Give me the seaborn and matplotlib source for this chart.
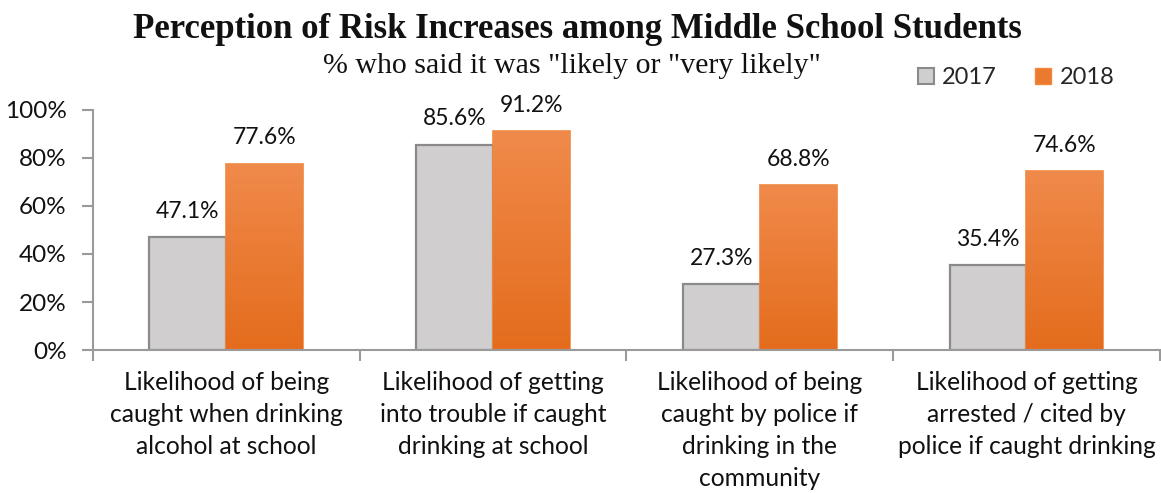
import numpy as np
import pandas as pd
import matplotlib
matplotlib.use("Agg")
import matplotlib.pyplot as plt
import seaborn as sns
from matplotlib.colors import LinearSegmentedColormap
from matplotlib.patches import Patch

categories = [
    "Likelihood of being\ncaught when drinking\nalcohol at school",
    "Likelihood of getting\ninto trouble if caught\ndrinking at school",
    "Likelihood of being\ncaught by police if\ndrinking in the\ncommunity",
    "Likelihood of getting\narrested / cited by\npolice if caught drinking",
]
years = ["2017", "2018"]
values_2017 = [47.1, 85.6, 27.3, 35.4]
values_2018 = [77.6, 91.2, 68.8, 74.6]
y_ticks = [0, 20, 40, 60, 80, 100]
y_tick_labels = ["0%", "20%", "40%", "60%", "80%", "100%"]

title = "Perception of Risk Increases among Middle School Students"
subtitle = '% who said it was "likely or "very likely"'

sns.set_theme(style="white")
plt.rcParams["font.family"] = ["Lato", "DejaVu Sans"]

df = pd.DataFrame({
    "category": categories * 2,
    "year": [years[0]] * 4 + [years[1]] * 4,
    "value": values_2017 + values_2018,
})

gray_fill = "#D0CECE"
gray_edge = "#8A8A8A"
orange_fill = "#EA7A2E"
orange_edge = "#F0893F"
axis_col = "#9A9A9A"

fig = plt.figure(figsize=(11.61, 4.93), dpi=100)
ax = fig.add_axes([0.080, 0.290, 0.919, 0.487])

sns.barplot(data=df, x="category", y="value", hue="year", hue_order=years,
            palette={"2017": gray_fill, "2018": orange_fill}, width=0.577,
            saturation=1, legend=False, ax=ax, linewidth=0)

cmap = LinearSegmentedColormap.from_list("og", ["#F08A4B", "#E46C1C"])
grad = np.linspace(0, 1, 256).reshape(-1, 1)
for i, cont in enumerate(ax.containers):
    for p in cont.patches:
        if i == 0:
            p.set_edgecolor(gray_edge)
            p.set_linewidth(1.6)
        else:
            p.set_edgecolor(orange_edge)
            p.set_linewidth(1.2)
            x0, w, h = p.get_x(), p.get_width(), p.get_height()
            im = ax.imshow(grad, cmap=cmap, aspect="auto",
                           extent=[x0, x0 + w, 0, h], origin="upper", zorder=p.get_zorder() + 0.1)
            im.set_clip_path(p)
    vals = values_2017 if i == 0 else values_2018
    ax.bar_label(cont, labels=[f"{v:.1f}%" for v in vals], padding=11,
                 fontsize=16.5, color="#111111")

ax.set_xlim(-0.5, 3.5)
ax.set_ylim(0, 100)
ax.set_yticks(y_ticks)
ax.set_yticklabels(y_tick_labels, fontsize=17.5, color="#111111")
ax.set_xticks(range(4))
ax.set_xticklabels(categories, fontsize=17.7, color="#111111", linespacing=1.47)
ax.set_xticks(np.arange(-0.5, 4.0, 1.0), minor=True)
ax.tick_params(axis="x", which="major", length=0, pad=15)
ax.tick_params(axis="x", which="minor", length=8, width=1.5, color=axis_col, direction="out", bottom=True)
ax.tick_params(axis="y", length=8, width=1.5, color=axis_col, direction="out", left=True, pad=11)
ax.set_xlabel("")
ax.set_ylabel("")
for s in ["top", "right"]:
    ax.spines[s].set_visible(False)
for s in ["left", "bottom"]:
    ax.spines[s].set_color(axis_col)
    ax.spines[s].set_linewidth(1.5)
ax.grid(False)

fig.text(0.497, 0.940, title, ha="center", va="center", fontsize=25,
         fontweight="bold", family=["Liberation Serif", "DejaVu Serif"], color="#111111")
fig.text(0.493, 0.866, subtitle, ha="center", va="center", fontsize=21.5,
         family=["Liberation Serif", "DejaVu Serif"], color="#111111")

handles = [Patch(facecolor=gray_fill, edgecolor=gray_edge, linewidth=1.5),
           Patch(facecolor=orange_fill, edgecolor=orange_edge, linewidth=1.0)]
fig.legend(handles, years, loc="center", bbox_to_anchor=(1016 / 1161, 0.842), ncol=2,
           frameon=False, handlelength=0.7, handleheight=0.7, columnspacing=1.6,
           handletextpad=0.35, fontsize=17)

fig.savefig("out.png", dpi=100)
